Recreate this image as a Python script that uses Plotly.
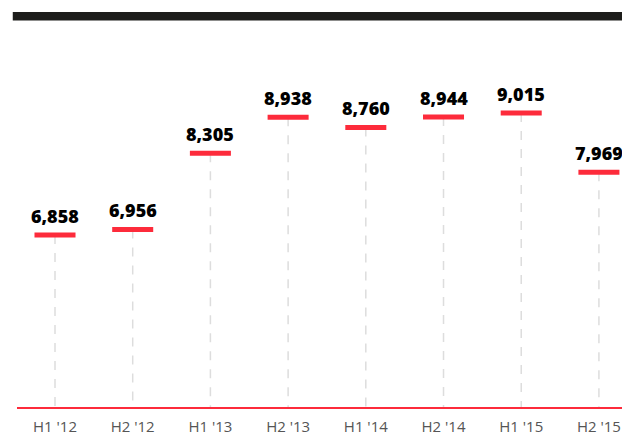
import plotly.graph_objects as go

#@ Data
periods = ["H1 '12", "H2 '12", "H1 '13", "H2 '13", "H1 '14", "H2 '14", "H1 '15", "H2 '15"]
values = [6858, 6956, 8305, 8938, 8760, 8944, 9015, 7969]
y_min, y_max = 3817, 10571

RED = '#fd2b3b'

#@ Dashed drop lines from each value to the base
drop_x, drop_y = [], []
for p, v in zip(periods, values):
    drop_x += [p, p, None]
    drop_y += [v, y_min, None]

fig = go.Figure()
fig.add_trace(go.Scatter(x=drop_x, y=drop_y, mode='lines',
                         line=dict(color='#dddddd', width=1.5, dash='dash'),
                         hoverinfo='skip', showlegend=False))

#@ Red markers
fig.add_trace(go.Scatter(x=periods, y=values, mode='markers',
                         marker=dict(symbol='line-ew', size=29.3,
                                     line=dict(color=RED, width=5)),
                         showlegend=False))

#@ Value labels
for p, v in zip(periods, values):
    fig.add_annotation(x=p, y=v, text=f'{v:,}', showarrow=False,
                       yanchor='bottom', yshift=5,
                       font=dict(family='Open Sans', size=18, color='#000000', weight=800))

#@ Black bar on top
fig.add_shape(type='rect', xref='paper', yref='paper',
              x0=-0.007, x1=1.02, y0=1.012, y1=1.034,
              fillcolor='#1d1d1b', line=dict(width=0), layer='above')

fig.update_layout(
    width=622, height=436,
    margin=dict(l=17, r=0, t=25, b=29),
    plot_bgcolor='white', paper_bgcolor='white',
    font=dict(family='Open Sans'),
    xaxis=dict(range=[-0.489, 7.297], showgrid=False, zeroline=False,
               showline=True, linecolor=RED, linewidth=2,
               ticks='', ticklabelstandoff=5,
               tickfont=dict(size=15, color='#555555')),
    yaxis=dict(range=[y_min, y_max], visible=False),
)

fig.write_html("out.html", config={'displayModeBar': False},
               post_script="document.body.style.margin='0';document.body.style.overflow='hidden';")
